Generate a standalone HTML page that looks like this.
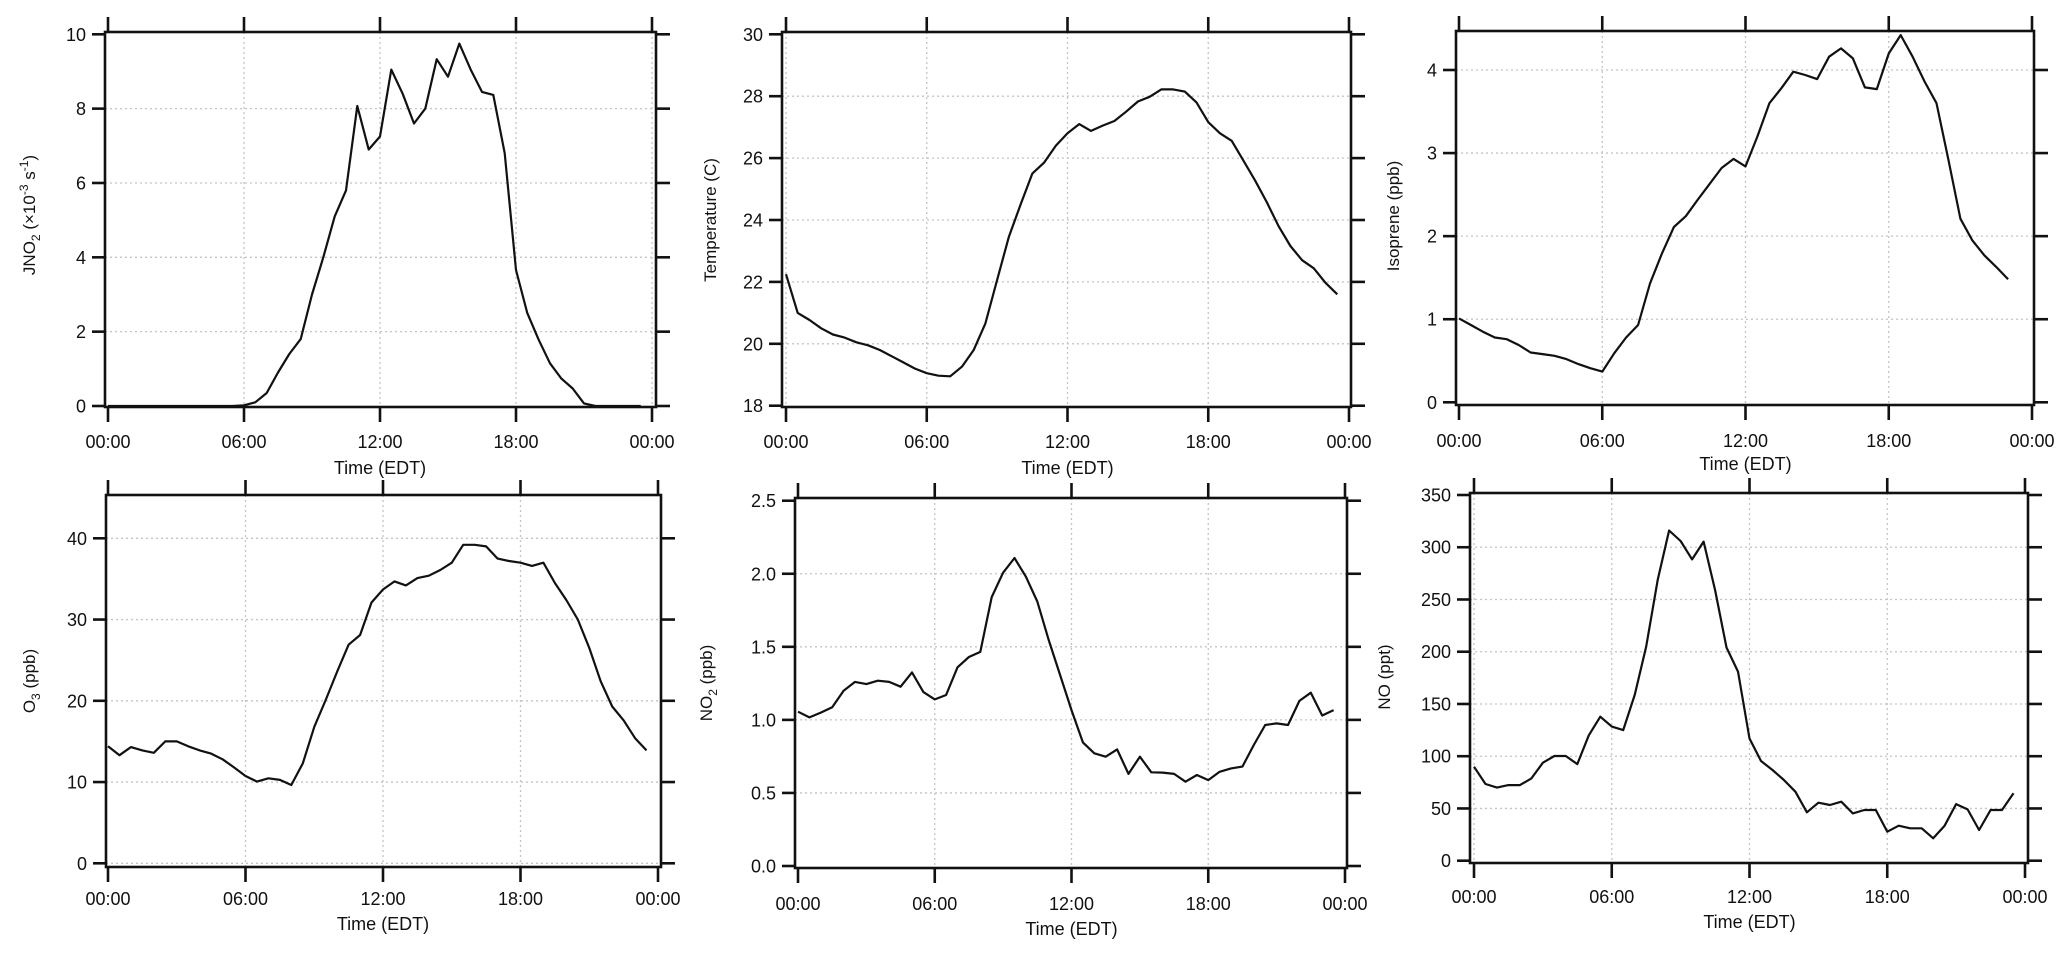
<!DOCTYPE html>
<html><head><meta charset="utf-8"><style>
html,body{margin:0;padding:0;background:#fff;}
svg{display:block;font-family:"Liberation Sans",Arial,sans-serif;}
</style></head><body>
<svg id="fig" width="2067" height="955" viewBox="0 0 2067 955" xmlns="http://www.w3.org/2000/svg"></svg>
<script>
const hours = [0,6,12,18,24];
const hourLabels = ["00:00","06:00","12:00","18:00","00:00"];
const jno2 = [0,0,0,0,0,0,0,0,0,0,0,0,0.02,0.1,0.35,0.9,1.4,1.8,3.0,4.0,5.1,5.8,8.07,6.9,7.25,9.05,8.4,7.6,8.0,9.33,8.86,9.75,9.05,8.45,8.37,6.8,3.66,2.5,1.78,1.15,0.74,0.47,0.07,0,0,0,0,0];
const temperature = [22.25,21.0,20.77,20.5,20.3,20.2,20.05,19.95,19.8,19.6,19.4,19.2,19.05,18.97,18.95,19.26,19.8,20.66,22.06,23.46,24.5,25.5,25.85,26.4,26.8,27.1,26.88,27.05,27.2,27.5,27.83,27.98,28.22,28.22,28.15,27.8,27.16,26.8,26.56,25.92,25.27,24.57,23.8,23.16,22.7,22.44,21.97,21.6];
const isoprene = [1.01,0.93,0.85,0.78,0.76,0.69,0.6,0.58,0.56,0.52,0.46,0.41,0.37,0.59,0.78,0.93,1.43,1.79,2.11,2.24,2.44,2.63,2.82,2.93,2.84,3.2,3.6,3.78,3.98,3.94,3.89,4.16,4.26,4.14,3.79,3.77,4.2,4.42,4.16,3.86,3.6,2.92,2.21,1.95,1.77,1.63,1.48];
const o3 = [14.4,13.3,14.3,13.9,13.6,15.0,15.0,14.4,13.9,13.5,12.8,11.8,10.75,10.05,10.46,10.26,9.64,12.3,16.8,20.1,23.6,26.9,28.1,32.1,33.7,34.7,34.2,35.1,35.4,36.1,37.0,39.2,39.2,39.0,37.5,37.2,37.0,36.6,37.0,34.5,32.4,30.0,26.5,22.4,19.3,17.6,15.4,13.9];
const no2 = [1.056,1.017,1.05,1.086,1.2,1.26,1.245,1.268,1.26,1.227,1.325,1.19,1.14,1.17,1.36,1.43,1.465,1.84,2.007,2.108,1.98,1.81,1.547,1.307,1.067,0.846,0.771,0.748,0.798,0.63,0.748,0.641,0.639,0.63,0.577,0.623,0.588,0.645,0.668,0.68,0.828,0.965,0.976,0.965,1.13,1.186,1.03,1.067];
const no = [90,73.4,70,72.4,72.4,78.8,93.8,100.2,100.2,92.5,120,137.8,128.3,125,158.6,205,268.7,316,306,288.4,305.4,259,204,181,117,95.4,86.8,77.2,66,46.3,55.5,53.3,56.5,45.3,48.5,48.5,27.8,33.5,31,31,21.4,33.5,54.2,49.1,29.4,48.5,48.5,64.5];
const jno2Ticks = [0,2,4,6,8,10];
const tempTicks = [18,20,22,24,26,28,30];
const isoTicks = [0,1,2,3,4];
const o3Ticks = [0,10,20,30,40];
const no2Ticks = [0.0,0.5,1.0,1.5,2.0,2.5];
const noTicks = [0,50,100,150,200,250,300,350];

const NS="http://www.w3.org/2000/svg";
const svg=document.getElementById('fig');
function mk(tag,attrs,parent){const e=document.createElementNS(NS,tag);for(const k in attrs)e.setAttribute(k,attrs[k]);(parent||svg).appendChild(e);return e;}

const panels=[
 {id:'jno2',data:jno2,ticks:jno2Ticks,dec:0,L:105,R:656,T:32,B:407,x0:108,x24:652,v0:0,p0:406,v1:10,p1:34.3,lbl:448,ttl:474,ytx:35,yty:215,title:'jno2'},
 {id:'temperature',data:temperature,ticks:tempTicks,dec:0,L:782,R:1351,T:32,B:407,x0:786,x24:1349,v0:18,p0:405.7,v1:30,p1:34.3,lbl:448,ttl:474,ytx:716,yty:220,title:'Temperature (C)'},
 {id:'isoprene',data:isoprene,ticks:isoTicks,dec:0,L:1456,R:2034,T:31,B:405,x0:1459,x24:2032,v0:0,p0:402.3,v1:4,p1:70,lbl:447,ttl:470,ytx:1399,yty:216,title:'Isoprene (ppb)'},
 {id:'o3',data:o3,ticks:o3Ticks,dec:0,L:106,R:661,T:495,B:867,x0:108,x24:658,v0:0,p0:863.3,v1:40,p1:538.3,lbl:905,ttl:930,ytx:35,yty:681,title:'o3'},
 {id:'no2',data:no2,ticks:no2Ticks,dec:1,L:795,R:1347,T:498,B:868,x0:798,x24:1345,v0:0,p0:866,v1:2.5,p1:500.7,lbl:910,ttl:935,ytx:712,yty:683,title:'no2'},
 {id:'no',data:no,ticks:noTicks,dec:0,L:1470,R:2028,T:493,B:863,x0:1474,x24:2025,v0:0,p0:860.7,v1:350,p1:495,lbl:903,ttl:928,ytx:1390,yty:677,title:'NO (ppt)'}
];

panels.forEach(p=>{
  const g=mk('g',{});
  
  
  const xs=h=>p.x0+(p.x24-p.x0)*h/24;
  const ys=v=>p.p0+(p.p1-p.p0)*(v-p.v0)/(p.v1-p.v0);
  // grid
  p.ticks.forEach(t=>{const y=ys(t);if(y>p.T+3&&y<p.B-3){const l=mk('line',{x1:p.L,x2:p.R,y1:y,y2:y,stroke:'#c4c4c4','stroke-width':1.3,'stroke-dasharray':'2,3'},g);}});
  hours.forEach(h=>{const x=xs(h);if(x>p.L+3&&x<p.R-3){const l=mk('line',{x1:x,x2:x,y1:p.T,y2:p.B,stroke:'#c4c4c4','stroke-width':1.3,'stroke-dasharray':'2,3'},g);}});
  // frame
  const fr=mk('rect',{x:p.L,y:p.T,width:p.R-p.L,height:p.B-p.T,fill:'none',stroke:'#111','stroke-width':2.6},g);
  
  // y ticks
  p.ticks.forEach(t=>{
    const y=ys(t);
    const a=mk('line',{x1:p.L-13,x2:p.L,y1:y,y2:y,stroke:'#111','stroke-width':2.6},g);
    
    const b=mk('line',{x1:p.R,x2:p.R+14,y1:y,y2:y,stroke:'#111','stroke-width':2.6},g);
    
    const tx=mk('text',{x:p.L-19,y:y+6.5,'text-anchor':'end','font-size':18,fill:'#111'},g);
    tx.textContent=t.toFixed(p.dec);
    
  });
  hours.forEach((h,i)=>{
    const x=xs(h);
    const a=mk('line',{x1:x,x2:x,y1:p.B,y2:p.B+15,stroke:'#111','stroke-width':2.6},g);
    
    const b=mk('line',{x1:x,x2:x,y1:p.T-15,y2:p.T,stroke:'#111','stroke-width':2.6},g);
    
    const tx=mk('text',{x:x,y:p.lbl,'text-anchor':'middle','font-size':18,fill:'#111'},g);
    tx.textContent=hourLabels[i];
    
  });
  const xt=mk('text',{x:(p.x0+p.x24)/2,y:p.ttl,'text-anchor':'middle','font-size':18,fill:'#111'},g);
  xt.textContent='Time (EDT)';
  
  const yt=mk('text',{transform:`translate(${p.ytx},${p.yty}) rotate(-90)`,'text-anchor':'middle','font-size':17,fill:'#111'},g);
  
  if(p.title==='jno2'){yt.innerHTML='JNO<tspan font-size="12" dy="5">2</tspan><tspan dy="-5"> (×10</tspan><tspan font-size="12" dy="-7">-3</tspan><tspan dy="7"> s</tspan><tspan font-size="12" dy="-7">-1</tspan><tspan dy="7">)</tspan>';}
  else if(p.title==='o3'){yt.innerHTML='O<tspan font-size="12" dy="5">3</tspan><tspan dy="-5"> (ppb)</tspan>';}
  else if(p.title==='no2'){yt.innerHTML='NO<tspan font-size="12" dy="5">2</tspan><tspan dy="-5"> (ppb)</tspan>';}
  else yt.textContent=p.title;
  // series
  const pts=p.data.map((v,i)=>xs(i*0.5).toFixed(1)+','+ys(v).toFixed(1)).join(' ');
  const line=mk('polyline',{points:pts,fill:'none',stroke:'#111','stroke-width':2.2,'stroke-linejoin':'round'},g);
  
});
</script>
</body></html>
